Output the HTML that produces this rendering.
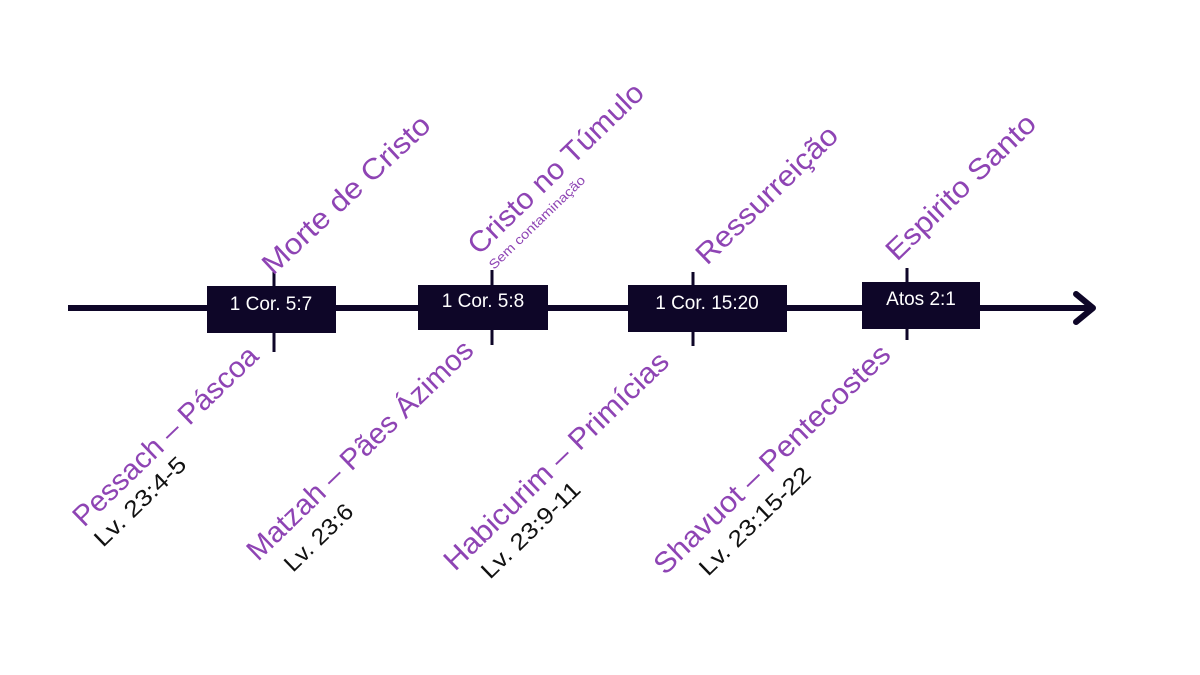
<!DOCTYPE html>
<html><head><meta charset="utf-8"><style>
html,body{margin:0;padding:0;background:#fff;}
svg{display:block;}
text{font-family:"Liberation Sans",sans-serif;}
.p{fill:#8e44b4;font-size:29px;}
.b{fill:#111;font-size:23px;}
.w{fill:#fff;font-size:19px;}
</style></head><body>
<svg width="1200" height="675" viewBox="0 0 1200 675" xmlns="http://www.w3.org/2000/svg">
<line x1="68" y1="308" x2="1092" y2="308" stroke="#0e0628" stroke-width="6"/>
<polyline points="1076,294 1093,308 1076,322" fill="none" stroke="#0e0628" stroke-width="6" stroke-linecap="round" stroke-linejoin="round"/>
<g stroke="#0e0628" stroke-width="3">
<line x1="274" y1="272" x2="274" y2="352"/>
<line x1="492" y1="270" x2="492" y2="345"/>
<line x1="693" y1="272" x2="693" y2="346"/>
<line x1="907" y1="268" x2="907" y2="340"/>
</g>
<g fill="#0e0628">
<rect x="207" y="286" width="129" height="47"/>
<rect x="418" y="285" width="130" height="45"/>
<rect x="628" y="285" width="159" height="47"/>
<rect x="862" y="282" width="118" height="47"/>
</g>
<text class="w" x="271" y="310" text-anchor="middle">1 Cor. 5:7</text>
<text class="w" x="483" y="307" text-anchor="middle">1 Cor. 5:8</text>
<text class="w" x="707" y="309" text-anchor="middle">1 Cor. 15:20</text>
<text class="w" x="921" y="305" text-anchor="middle">Atos 2:1</text>

<text class="p" transform="translate(273,276) rotate(-43)" textLength="218" lengthAdjust="spacingAndGlyphs">Morte de Cristo</text>
<text class="p" transform="translate(479,256) rotate(-44)" textLength="232" lengthAdjust="spacingAndGlyphs">Cristo no Túmulo</text>
<text style="fill:#8e44b4;font-size:13px" transform="translate(494,270) rotate(-44)" textLength="128" lengthAdjust="spacingAndGlyphs">Sem contaminação</text>
<text class="p" transform="translate(707,266) rotate(-44)" textLength="185" lengthAdjust="spacingAndGlyphs">Ressurreição</text>
<text class="p" transform="translate(897,262) rotate(-44)" textLength="196" lengthAdjust="spacingAndGlyphs">Espirito Santo</text>

<text class="p" transform="translate(84,528) rotate(-44)" textLength="245" lengthAdjust="spacingAndGlyphs">Pessach – Páscoa</text>
<text class="b" transform="translate(103,548) rotate(-44)" textLength="118" lengthAdjust="spacingAndGlyphs">Lv. 23:4-5</text>
<text class="p" transform="translate(258,562) rotate(-44)" textLength="302" lengthAdjust="spacingAndGlyphs">Matzah – Pães Ázimos</text>
<text class="b" transform="translate(293,573) rotate(-44)" textLength="86" lengthAdjust="spacingAndGlyphs">Lv. 23:6</text>
<text class="p" transform="translate(455,572) rotate(-44)" textLength="300" lengthAdjust="spacingAndGlyphs">Habicurim – Primícias</text>
<text class="b" transform="translate(490,580) rotate(-44)" textLength="128" lengthAdjust="spacingAndGlyphs">Lv. 23:9-11</text>
<text class="p" transform="translate(665,576) rotate(-44)" textLength="316" lengthAdjust="spacingAndGlyphs">Shavuot – Pentecostes</text>
<text class="b" transform="translate(708,577) rotate(-44)" textLength="145" lengthAdjust="spacingAndGlyphs">Lv. 23:15-22</text>
</svg>
</body></html>
